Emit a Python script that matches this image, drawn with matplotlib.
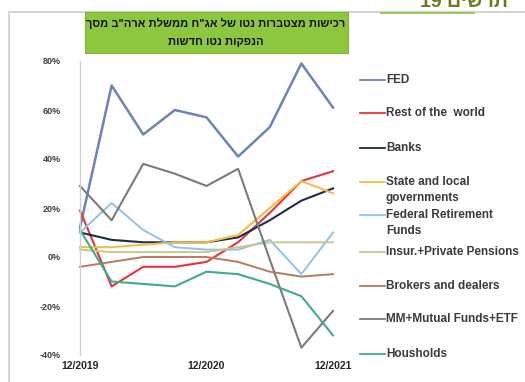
import matplotlib
matplotlib.use("Agg")
import matplotlib.pyplot as plt
from matplotlib.lines import Line2D
from matplotlib.patches import Rectangle

plt.rcParams['font.family'] = ['Liberation Sans', 'DejaVu Sans']

# Quarterly points, 12/2019 .. 12/2021
quarters = list(range(9))
tick_pos = [0, 4, 8]
tick_labels = ["12/2019", "12/2020", "12/2021"]
y_ticks = [-40, -20, 0, 20, 40, 60, 80]

fed = [12, 70, 50, 60, 57, 41, 53, 79, 61]
rest_of_world = [19, -12, -4, -4, -2, 6, 18, 31, 35]
banks = [10, 7, 6, 6, 6, 8, 15, 23, 28]
state_local = [4, 4, 5, 6, 6, 9, 20, 31, 26]
federal_retirement = [10, 22, 11, 4, 3, 3, 7, -7, 10]
insur_pensions = [3, 2, 2, 2, 2, 4, 6, 6, 6]
brokers = [-4, -2, 0, 0, 0, -2, -6, -8, -7]
mm_funds = [29, 15, 38, 34, 29, 36, -1, -37, -22]
households = [11, -10, -11, -12, -6, -7, -11, -16, -32]

series = [
    (["FED"], fed, "#6d84b6", 1.8),
    (["Rest of the  world"], rest_of_world, "#e8313c", 1.5),
    (["Banks"], banks, "#1f2b4a", 1.5),
    (["State and local", "governments"], state_local, "#f6bd45", 1.5),
    (["Federal Retirement", "Funds"], federal_retirement, "#8ec3e8", 1.4),
    (["Insur.+Private Pensions"], insur_pensions, "#c6c98e", 1.4),
    (["Brokers and dealers"], brokers, "#b97a5c", 1.4),
    (["MM+Mutual Funds+ETF"], mm_funds, "#7b7b7b", 1.5),
    (["Housholds"], households, "#3fae86", 1.5),
]
legend_y = [80, 113, 148, 182, 215, 252, 286, 319, 354]

title_lines = ['רכישות מצטברות נטו של אג"ח ממשלת ארה"ב מסך', 'הנפקות נטו חדשות']
header_word = 'תרשים'
header_num = '19'

W, H = 525, 382


def fx(px):
    return px / W


def fy(py):
    return 1 - py / H


def rtl(s):
    # matplotlib lays glyphs left to right, so Hebrew goes in reversed
    return s[::-1]


fig = plt.figure(figsize=(W / 100, H / 100), dpi=100)
fig.patch.set_facecolor('white')

# slide frame
fig.add_artist(Rectangle((fx(9), fy(400)), fx(560), fy(12) - fy(400),
                         transform=fig.transFigure, fill=False,
                         edgecolor='#d4d4d4', lw=1.5))

# slide header, cut at the top
fig.text(fx(420), fy(11), header_num + ' ' + rtl(header_word), ha='left', va='bottom',
         fontsize=14, fontweight='bold', color='#667a1e')
fig.add_artist(Rectangle((fx(380), fy(14)), fx(95), fy(12) - fy(14),
                         transform=fig.transFigure, color='#8cc040', lw=0, alpha=0.8))

# green title box
fig.add_artist(Rectangle((fx(85), fy(53)), fx(263), fy(12) - fy(53),
                         transform=fig.transFigure, facecolor='#8dc63f',
                         edgecolor='#7fb535', lw=0.8))
fig.text(fx(216), fy(23), rtl(title_lines[0]), ha='center', va='center',
         fontsize=8, fontweight='bold', color='#111111')
fig.text(fx(216), fy(42), rtl(title_lines[1]), ha='center', va='center',
         fontsize=8, fontweight='bold', color='#111111')

ax = fig.add_axes([fx(80), fy(355), fx(333) - fx(80), fy(61) - fy(355)])
for labels, vals, color, lw in series:
    ax.plot(quarters, vals, color=color, lw=lw, solid_joinstyle='round', clip_on=False)

ax.set_xlim(0, 8)
ax.set_ylim(-40, 80)
ax.set_yticks(y_ticks)
ax.set_yticklabels([f"{v}%" for v in y_ticks], fontsize=6.5, fontweight='bold', color='#404040')
ax.set_xticks(tick_pos)
ax.set_xticklabels(tick_labels, fontsize=7.5, fontweight='bold', color='#262626')
ax.tick_params(axis='both', length=0)
ax.tick_params(axis='y', pad=14)
ax.tick_params(axis='x', pad=4)
for side in ['top', 'right', 'bottom']:
    ax.spines[side].set_visible(False)
ax.spines['left'].set_color('#d0d0d0')
ax.spines['left'].set_linewidth(1.0)
ax.patch.set_alpha(0)

# legend drawn on the right, handle level with the first label line
for (labels, vals, color, lw), py in zip(series, legend_y):
    fig.add_artist(Line2D([fx(360), fx(385)], [fy(py), fy(py)], color=color, lw=1.3,
                          transform=fig.transFigure))
    for k, line in enumerate(labels):
        fig.text(fx(386), fy(py + 16 * k), line, ha='left', va='center',
                 fontsize=8.5, fontweight='bold', color='#3a3a3a')

fig.savefig("out.png", dpi=100)
